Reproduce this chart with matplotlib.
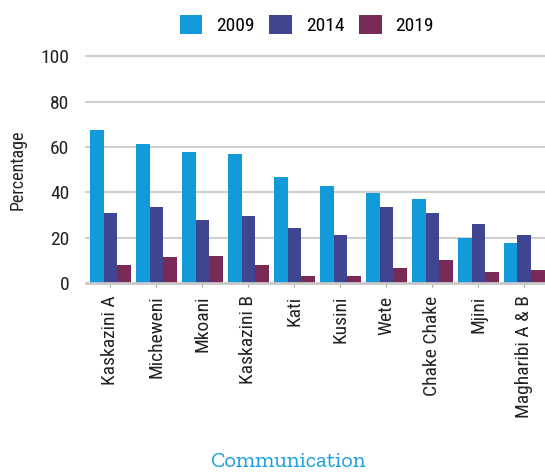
import matplotlib
matplotlib.use("Agg")
import matplotlib.pyplot as plt
from matplotlib import font_manager as fm
import numpy as np

categories = ["Kaskazini A", "Micheweni", "Mkoani", "Kaskazini B", "Kati",
              "Kusini", "Wete", "Chake Chake", "Mjini", "Magharibi A & B"]
series_names = ["2009", "2014", "2019"]
v2009 = [67.4, 61.2, 57.7, 56.8, 46.6, 42.6, 39.6, 36.9, 19.9, 17.5]
v2014 = [30.7, 33.4, 27.7, 29.4, 24.3, 21.0, 33.4, 30.7, 25.9, 21.0]
v2019 = [7.9, 11.5, 11.9, 7.9, 3.1, 3.1, 6.5, 10.0, 4.7, 5.6]
yticks = [0, 20, 40, 60, 80, 100]
colors = ["#139BD9", "#3F4591", "#7A2A56"]

avail = {f.name for f in fm.fontManager.ttflist}
main_fonts = [f for f in ["Roboto Condensed", "Barlow Condensed", "Roboto"] if f in avail][:1] + ["DejaVu Sans"]
title_fonts = [f for f in ["Zilla Slab", "Crete Round", "Arvo", "Lato"] if f in avail][:1] + ["DejaVu Sans"]

plt.rcParams['font.family'] = main_fonts

fig = plt.figure(figsize=(5.45, 4.74), dpi=100)
ax = fig.add_axes([0.158, 0.403, 0.842, 0.478])

x = np.arange(len(categories))
w = 0.89 / 3
for i, (vals, c, name) in enumerate(zip([v2009, v2014, v2019], colors, series_names)):
    ax.bar(x + (i - 1) * w, vals, width=w, color=c, label=name, zorder=3)

ax.set_xlim(-0.53, 9.45)
ax.set_ylim(0, 100)
ax.set_yticks(yticks)
ax.set_yticklabels([str(t) for t in yticks], fontsize=14, color="#222222")
ax.set_xticks(x)
ax.set_xticklabels(categories, rotation=90, fontsize=14, color="#222222")
ax.tick_params(axis='y', length=0, pad=12)
ax.tick_params(axis='x', length=3, color="#aaaaaa", pad=6)
for t in yticks[1:]:
    ax.axhline(t, color="#d0d0d0", lw=1.5, zorder=1, clip_on=False)
for s in ["top", "right", "left"]:
    ax.spines[s].set_visible(False)
ax.spines["bottom"].set_color("#c8c8c8")
ax.spines["bottom"].set_linewidth(2)
ax.spines["bottom"].set_zorder(4)

ax.set_ylabel("Percentage", fontsize=13, color="#222222", labelpad=10)

fig.legend(loc="upper center", bbox_to_anchor=(0.563, 1.005), ncol=3, frameon=False,
           fontsize=14, handlelength=1.15, handleheight=1.15, columnspacing=0.77,
           handletextpad=0.72)

fig.text(0.529, 0.015, "Communication", ha="center", va="baseline", fontsize=16,
         color="#1A9FE0", family=title_fonts)

fig.savefig("out.png", dpi=100)
